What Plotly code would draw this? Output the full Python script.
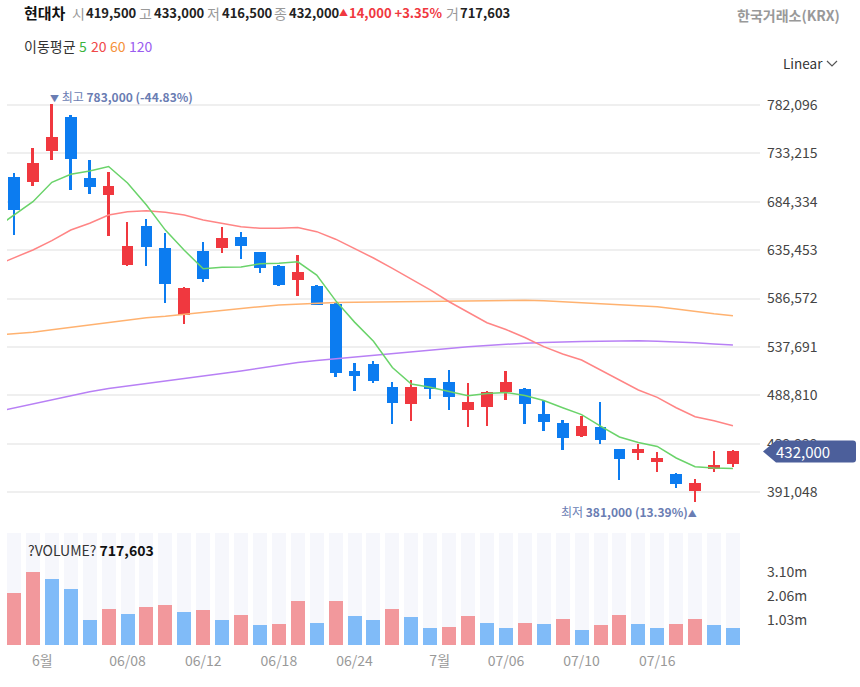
import plotly.graph_objects as go

W, H = 860, 687

# ---------------- data ----------------
idx = list(range(39))
opens = [709500, 704000, 736000, 770000, 708500, 691000, 620500, 660000, 637500, 570000,
         634500, 637500, 648500, 633500, 619500, 605500, 599000, 581500, 513500, 520000,
         497000, 479500, 506000, 502000, 474000, 477000, 492000, 495000, 469500, 460500,
         448000, 456500, 434000, 430000, 421500, 409000, 392500, 414000, 419500]
highs = [713500, 739000, 783000, 772000, 726500, 714500, 664000, 666500, 653000, 598000,
         644000, 658500, 654000, 634000, 620000, 630500, 600000, 582000, 521500, 523500,
         502000, 504000, 506500, 514500, 501000, 493000, 513500, 496000, 484000, 464000,
         468000, 482000, 434500, 440000, 431000, 410000, 404000, 432500, 433000]
lows = [651000, 700500, 726500, 696000, 692000, 649500, 619500, 619500, 582500, 560500,
        603500, 633000, 626500, 612500, 599000, 589500, 580000, 507500, 493500, 501000,
        459500, 463000, 485000, 474000, 457000, 457500, 484500, 459500, 453000, 433000,
        447000, 440000, 403000, 423500, 411500, 395000, 381000, 411500, 416500]
closes = [676500, 723000, 750000, 728000, 699000, 700000, 639500, 638500, 601500, 597000,
          606500, 647500, 640000, 617000, 600000, 613500, 580500, 511000, 508500, 503500,
          480500, 497000, 495000, 487000, 482000, 492000, 502000, 479500, 462000, 445500,
          457500, 444000, 424000, 434500, 425500, 399000, 400000, 418000, 432000]
volumes = [2180000, 3100000, 2770000, 2350000, 1070000, 1540000, 1320000, 1590000, 1710000, 1380000,
           1490000, 1070000, 1280000, 850000, 900000, 1880000, 950000, 1880000, 1220000, 1070000,
           1540000, 1170000, 740000, 780000, 1220000, 950000, 740000, 910000, 890000, 1110000,
           640000, 840000, 1270000, 900000, 740000, 900000, 1110000, 840000, 717603]

ma_idx = list(range(-1, 39))
ma5 = [657400, 670900, 684400, 704000, 712100, 715300, 720000, 703300, 681000, 655700,
       635300, 616600, 618200, 618500, 621600, 622200, 623600, 610200, 584400, 562700,
       543400, 516800, 500100, 496900, 492600, 488300, 490600, 491600, 488500, 483500,
       476200, 469300, 457700, 446600, 441100, 437100, 425400, 416600, 415400, 414900]
ma20 = [619800, 627700, 635600, 645000, 655800, 662600, 670900, 674300, 675300, 673700,
        670900, 665900, 662600, 659100, 657500, 657500, 658300, 654100, 646500, 637300,
        627500, 617100, 606500, 595200, 583300, 572400, 562100, 555200, 547200, 537900,
        530500, 524400, 514300, 503500, 494100, 486700, 476200, 467100, 463100, 458000]
ma60 = [549400, 550900, 552400, 555000, 557500, 559800, 562500, 565100, 567200, 568600,
        570600, 572600, 574900, 576700, 578300, 580000, 581000, 582000, 582500, 582800,
        583100, 583400, 583700, 584000, 584300, 584600, 584800, 585100, 584800, 584200,
        583300, 582500, 581700, 580700, 579700, 578300, 576000, 573200, 571100, 569200]
ma120 = [471900, 476000, 480200, 484200, 488300, 492300, 495700, 498100, 500700, 503100,
         505600, 508000, 510700, 513400, 516200, 519000, 521800, 523800, 525600, 527500,
         529300, 531000, 532700, 534500, 536200, 537800, 539200, 540600, 541400, 542200,
         542900, 543200, 543400, 543700, 543900, 543500, 542900, 541800, 540700, 539600]

price_ticks = [391048, 439929, 488810, 537691, 586572, 635453, 684334, 733215, 782096]
vol_tickvals = [1033333, 2066667, 3100000]
vol_ticktext = ["1.03m", "2.06m", "3.10m"]
x_tickvals = [1.5, 6, 10, 14, 18, 22.5, 26, 30, 34]
x_ticktext = ["6월", "06/08", "06/12", "06/18", "06/24", "7월", "07/06", "07/10", "07/16"]

# ---------------- styles ----------------
RED, BLUE = "#f0383f", "#0c7cf0"
VRED, VBLUE = "#f2989c", "#80bbf8"
FONT = "Noto Sans CJK KR"

def X(px):
    return px / W

def Y(py):
    return 1 - py / H

up = [c >= o for o, c in zip(opens, closes)]
cand_col = [RED if u else BLUE for u in up]
vol_col = [VRED if (i == 0 or volumes[i] >= volumes[i - 1]) else VBLUE for i in range(len(volumes))]

fig = go.Figure()

# volume background stripes
vtop = 4736000
fig.add_trace(go.Bar(x=idx, y=[vtop] * len(idx), width=0.74, marker=dict(color="#f6f7fc", line=dict(width=0)),
                     yaxis="y2", hoverinfo="skip", showlegend=False))
fig.add_trace(go.Bar(x=idx, y=volumes, width=0.74, marker=dict(color=vol_col, line=dict(width=0)),
                     yaxis="y2", hoverinfo="skip", showlegend=False))

# moving averages
for vals, col in [(ma120, "#b880f5"), (ma60, "#ffb270"), (ma20, "#ff8585"), (ma5, "#6ad36a")]:
    fig.add_trace(go.Scatter(x=ma_idx, y=vals, mode="lines", line=dict(color=col, width=1.5),
                             hoverinfo="skip", showlegend=False, yaxis="y"))

# wicks
fig.add_trace(go.Bar(x=idx, y=[h - l for h, l in zip(highs, lows)], base=lows, width=0.1,
                     marker=dict(color=cand_col, line=dict(width=0)), yaxis="y",
                     hoverinfo="skip", showlegend=False))
# bodies
fig.add_trace(go.Bar(x=idx, y=[max(abs(c - o), 1) for o, c in zip(opens, closes)],
                     base=[min(o, c) for o, c in zip(opens, closes)], width=0.62,
                     marker=dict(color=cand_col, line=dict(width=0)), yaxis="y",
                     hoverinfo="skip", showlegend=False))

fig.update_layout(
    width=W, height=H, margin=dict(l=0, r=0, t=0, b=0),
    paper_bgcolor="white", plot_bgcolor="white",
    barmode="overlay", bargap=0, showlegend=False,
    font=dict(family=FONT, size=14, color="#444"),
    xaxis=dict(domain=[X(7), X(760)], range=[-0.37, 39.43], anchor="y2",
               tickmode="array", tickvals=x_tickvals, ticktext=x_ticktext,
               showgrid=False, zeroline=False, showline=False, ticks="",
               tickfont=dict(size=14, color="#999"), ticklabelstandoff=6),
    yaxis=dict(domain=[Y(525), Y(85)], range=[357703, 802305], side="right", anchor="x",
               tickmode="array", tickvals=price_ticks, ticktext=[f"{v:,}" for v in price_ticks],
               showgrid=True, gridcolor="#efefef", gridwidth=1.5, zeroline=False, showline=False,
               ticks="", tickfont=dict(size=14, color="#444"), ticklabelstandoff=6),
    yaxis2=dict(domain=[Y(645), Y(533)], range=[0, vtop], side="right", anchor="x",
                tickmode="array", tickvals=vol_tickvals, ticktext=vol_ticktext,
                showgrid=False, zeroline=False, showline=False, ticks="",
                tickfont=dict(size=14, color="#444"), ticklabelstandoff=6),
)

ann = []
def txt(x, y, text, size=14, color="#333", anchor="left"):
    ann.append(dict(x=X(x), y=Y(y), xref="paper", yref="paper", text=text, showarrow=False,
                    xanchor=anchor, yanchor="middle", font=dict(family=FONT, size=size, color=color)))

# header
txt(22, 13, "<b>현대차</b>", 15, "#111")
hdr = [(70, "시", "#999", 14), (84, "<b>419,500</b>", "#222", 13), (137, "고", "#999", 14),
       (152, "<b>433,000</b>", "#222", 13), (205, "저", "#999", 14), (220, "<b>416,500</b>", "#222", 13),
       (272, "종", "#999", 14), (287, "<b>432,000</b>", "#222", 13), (337, "▲", RED, 9),
       (347, "<b>14,000 +3.35%</b>", RED, 13), (444, "거", "#999", 14), (458, "<b>717,603</b>", "#222", 13)]
for x, t, c, s in hdr:
    txt(x, 13, t, s, c)
txt(842, 15, "<b>한국거래소(KRX)</b>", 14, "#999", "right")
txt(22, 46, "이동평균", 14, "#333")
txt(77, 46, "5", 14, "#3cb43c")
txt(89, 46, "20", 14, "#f04848")
txt(108, 46, "60", 14, "#f5913a")
txt(127, 46, "120", 14, "#9a5cf0")
txt(781, 63, "Linear", 13.5, "#333")
txt(26, 550, "?VOLUME? <b style='color:#111'>717,603</b>", 14, "#333")

# high / low markers
hi_i = highs.index(max(highs))
lo_i = lows.index(min(lows))
ann.append(dict(x=hi_i, y=max(highs), xref="x", yref="y", showarrow=False, xanchor="left", yanchor="middle",
                xshift=-4, yshift=8, text="<span style='font-size:9px'>▼</span> 최고 <b>783,000 (-44.83%)</b>",
                font=dict(family=FONT, size=12, color="#6a7db3")))
ann.append(dict(x=lo_i, y=min(lows), xref="x", yref="y", showarrow=False, xanchor="right", yanchor="middle",
                xshift=4, yshift=-10, text="최저 <b>381,000 (13.39%)</b><span style='font-size:9px'>▲</span>",
                font=dict(family=FONT, size=12, color="#6a7db3")))

# last price badge
ann.append(dict(x=X(803), y=closes[-1], xref="paper", yref="y", showarrow=False, xanchor="center",
                yanchor="middle", text=f"{closes[-1]:,}", font=dict(family=FONT, size=15, color="white")))
fig.update_layout(annotations=ann)

fig.add_shape(type="path", xref="paper", yref="y", xsizemode="pixel", ysizemode="pixel",
              xanchor=X(763), yanchor=closes[-1],
              path="M0,0 L13,11 L90,11 Q93,11 93,8 L93,-8 Q93,-11 90,-11 L13,-11 Z",
              fillcolor="#4c5f9b", line=dict(width=0), layer="above")
# dropdown chevron
fig.add_shape(type="path", xref="paper", yref="paper",
              path=f"M{X(827)},{Y(61)} L{X(832)},{Y(66)} L{X(837)},{Y(61)}",
              line=dict(color="#555", width=1.2), layer="above")

fig.write_html("out.html")
